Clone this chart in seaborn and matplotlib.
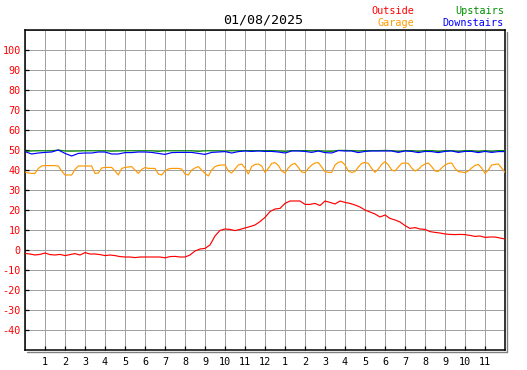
import numpy as np
import pandas as pd
import matplotlib
matplotlib.use("Agg")
import matplotlib.pyplot as plt
from matplotlib.lines import Line2D
import seaborn as sns

title = "01/08/2025"
x_tick_labels = ["1", "2", "3", "4", "5", "6", "7", "8", "9", "10", "11", "12",
                 "1", "2", "3", "4", "5", "6", "7", "8", "9", "10", "11"]
y_ticks = [-40, -30, -20, -10, 0, 10, 20, 30, 40, 50, 60, 70, 80, 90, 100]

# hours since midnight, every 15 minutes
outside_hours = [i / 4 for i in range(97)]
outside = [
    -1.7, -2.0, -2.5, -2.2, -1.5, -2.3, -2.5, -2.2, -2.8, -2.3, -1.8, -2.5,
    -1.3, -2.0, -2.0, -2.3, -2.8, -2.5, -2.8, -3.3, -3.5, -3.5, -3.8, -3.5,
    -3.5, -3.5, -3.5, -3.5, -3.9, -3.3, -3.2, -3.5, -3.5, -2.5, -0.5, 0.5,
    0.8, 2.5, 7.0, 9.8, 10.5, 10.3, 9.7, 10.3, 11.0, 11.7, 12.5, 14.2,
    16.3, 19.2, 20.5, 20.8, 23.3, 24.5, 24.5, 24.5, 22.8, 22.8, 23.3, 22.2,
    24.5, 23.8, 23.0, 24.5, 23.8, 23.3, 22.5, 21.5, 20.0, 19.0, 18.0, 16.5,
    17.5, 15.8, 15.0, 14.0, 12.2, 10.8, 11.2, 10.5, 10.3, 9.2, 8.8, 8.5,
    8.0, 7.8, 7.7, 7.8, 7.7, 7.3, 6.8, 7.0, 6.3, 6.5, 6.5, 6.0, 5.5,
]

# hours since midnight, every 10 minutes
garage_hours = [i / 6 for i in range(145)]
garage = [
    39.0, 38.5, 38.3, 38.3, 40.8, 42.0, 42.2, 42.2, 42.2, 42.2, 42.0, 39.5,
    37.5, 37.5, 37.5, 40.3, 42.0, 42.0, 42.0, 42.0, 42.0, 38.3, 38.5, 41.0,
    41.3, 41.3, 41.3, 39.5, 37.5, 40.8, 41.3, 41.5, 41.7, 40.0, 38.3, 40.3,
    41.2, 40.8, 40.8, 40.8, 38.0, 37.5, 39.5, 40.5, 40.8, 40.8, 40.8, 40.5,
    38.0, 37.5, 40.0, 41.0, 41.7, 40.0, 38.3, 37.0, 40.0, 41.7, 42.3, 42.5,
    42.5, 39.5, 38.5, 40.5, 42.5, 43.0, 41.0, 38.0, 41.7, 42.8, 43.0, 42.0,
    38.8, 40.8, 43.3, 43.7, 42.3, 39.5, 38.5, 41.0, 42.7, 43.3, 41.3, 39.0,
    38.7, 40.8, 42.5, 43.5, 43.7, 41.5, 39.2, 38.8, 38.8, 42.5, 43.8, 44.2,
    42.5, 39.5, 38.8, 39.2, 41.5, 43.3, 43.8, 43.3, 40.8, 38.8, 40.5, 42.8,
    44.2, 42.5, 40.0, 39.5, 41.5, 43.3, 43.5, 43.3, 41.0, 39.5, 40.3, 42.0,
    43.0, 43.5, 41.7, 39.5, 39.3, 41.0, 42.5, 43.3, 43.5, 40.8, 39.2, 39.0,
    38.7, 39.5, 41.0, 42.3, 42.8, 41.0, 38.3, 40.0, 42.5, 42.8, 43.0, 41.0,
    38.8,
]

# hours since midnight, every 20 minutes
indoor_hours = [i / 3 for i in range(73)]
upstairs = [
    49.3, 49.5, 49.6, 49.6, 49.6, 50.0, 49.5, 49.4, 49.5, 49.6, 49.6, 49.6,
    49.6, 49.4, 49.5, 49.6, 49.6, 49.6, 49.6, 49.6, 49.3, 49.6, 49.6, 49.6,
    49.6, 49.6, 49.3, 49.6, 49.6, 49.6, 49.4, 49.6, 49.6, 49.7, 49.7, 49.7,
    49.7, 49.7, 49.5, 49.3, 49.7, 49.7, 49.7, 49.5, 49.7, 49.4, 49.3, 49.8,
    49.8, 49.7, 49.4, 49.7, 49.7, 49.7, 49.8, 49.7, 49.2, 49.7, 49.7, 49.3,
    49.7, 49.7, 49.2, 49.7, 49.7, 49.2, 49.7, 49.7, 49.2, 49.7, 49.3, 49.7,
    49.7,
]
downstairs = [
    49.2, 48.0, 48.5, 48.8, 49.0, 50.0, 48.3, 47.0, 48.3, 48.5, 48.5, 49.0,
    49.0, 48.0, 48.0, 48.7, 48.7, 49.0, 49.0, 48.8, 48.3, 47.8, 48.7, 48.8,
    48.8, 48.8, 48.3, 47.8, 48.8, 49.0, 49.2, 48.5, 49.2, 49.5, 49.3, 49.5,
    49.3, 49.3, 49.0, 48.5, 49.5, 49.5, 49.3, 48.8, 49.5, 48.7, 48.5, 49.7,
    49.5, 49.5, 48.7, 49.3, 49.5, 49.5, 49.5, 49.5, 48.8, 49.5, 49.3, 48.7,
    49.3, 49.2, 48.7, 49.3, 49.5, 48.8, 49.3, 49.3, 48.7, 49.3, 48.8, 49.2,
    49.2,
]

RED = "#ff0000"
ORANGE = "#ff9900"
GREEN = "#008f00"
BLUE = "#0000ff"

sns.set_theme(style="white")
plt.rcParams["font.family"] = ["DejaVu Sans Mono", "DejaVu Sans"]

W, H = 527, 370
fig = plt.figure(figsize=(W / 100, H / 100), dpi=100)
L, R, T, B = 25, 505, 30, 350
ax = fig.add_axes([L / W, 1 - B / H, (R - L) / W, (B - T) / H])

lw = 0.85
sns.lineplot(x=indoor_hours, y=upstairs, ax=ax, color=GREEN, lw=lw, zorder=3)
sns.lineplot(x=indoor_hours, y=downstairs, ax=ax, color=BLUE, lw=lw, zorder=4)
sns.lineplot(x=garage_hours, y=garage, ax=ax, color=ORANGE, lw=lw, zorder=3)
sns.lineplot(x=outside_hours, y=outside, ax=ax, color=RED, lw=lw, zorder=3)

ax.set_xlim(0, 24)
ax.set_ylim(-50, 110)
ax.set_xticks(range(1, 24))
ax.set_xticklabels(x_tick_labels)
ax.set_xticks(range(0, 25), minor=True)
ax.set_yticks(y_ticks)
ax.set_yticks(range(-50, 111, 10), minor=True)
ax.set_yticklabels([str(v) for v in y_ticks])

ax.grid(which="minor", color="#a0a0a0", lw=0.72)
ax.grid(which="major", color="#a0a0a0", lw=0.72)
ax.set_axisbelow(True)
ax.tick_params(axis="both", which="major", direction="in", length=3, width=0.9,
               color="black", labelsize=7.3)
ax.tick_params(axis="both", which="minor", length=0)
ax.tick_params(axis="y", pad=3, labelcolor=RED, left=True)
ax.tick_params(axis="x", pad=5, labelcolor="black", bottom=True)
for s in ax.spines.values():
    s.set_color("black")
    s.set_linewidth(1.1)
    s.set_visible(True)

# shadow along right and bottom border
fig.add_artist(Line2D([(R + 2) / W, (R + 2) / W], [1 - (T + 2) / H, 1 - (B + 2) / H],
                      color="#808080", lw=1.0, transform=fig.transFigure))
fig.add_artist(Line2D([(L + 2) / W, (R + 2) / W], [1 - (B + 2) / H, 1 - (B + 2) / H],
                      color="#808080", lw=1.0, transform=fig.transFigure))

fig.text(263.5 / W, 1 - 20 / H, title, ha="center", va="center", fontsize=9.6,
         color="black")
fig.text(414 / W, 1 - 11 / H, "Outside", ha="right", va="center", fontsize=7.3, color=RED)
fig.text(414 / W, 1 - 23 / H, "Garage", ha="right", va="center", fontsize=7.3, color=ORANGE)
fig.text(504 / W, 1 - 11 / H, "Upstairs", ha="right", va="center", fontsize=7.3, color=GREEN)
fig.text(504 / W, 1 - 23 / H, "Downstairs", ha="right", va="center", fontsize=7.3, color=BLUE)

fig.savefig("out.png", dpi=100, facecolor="white")
